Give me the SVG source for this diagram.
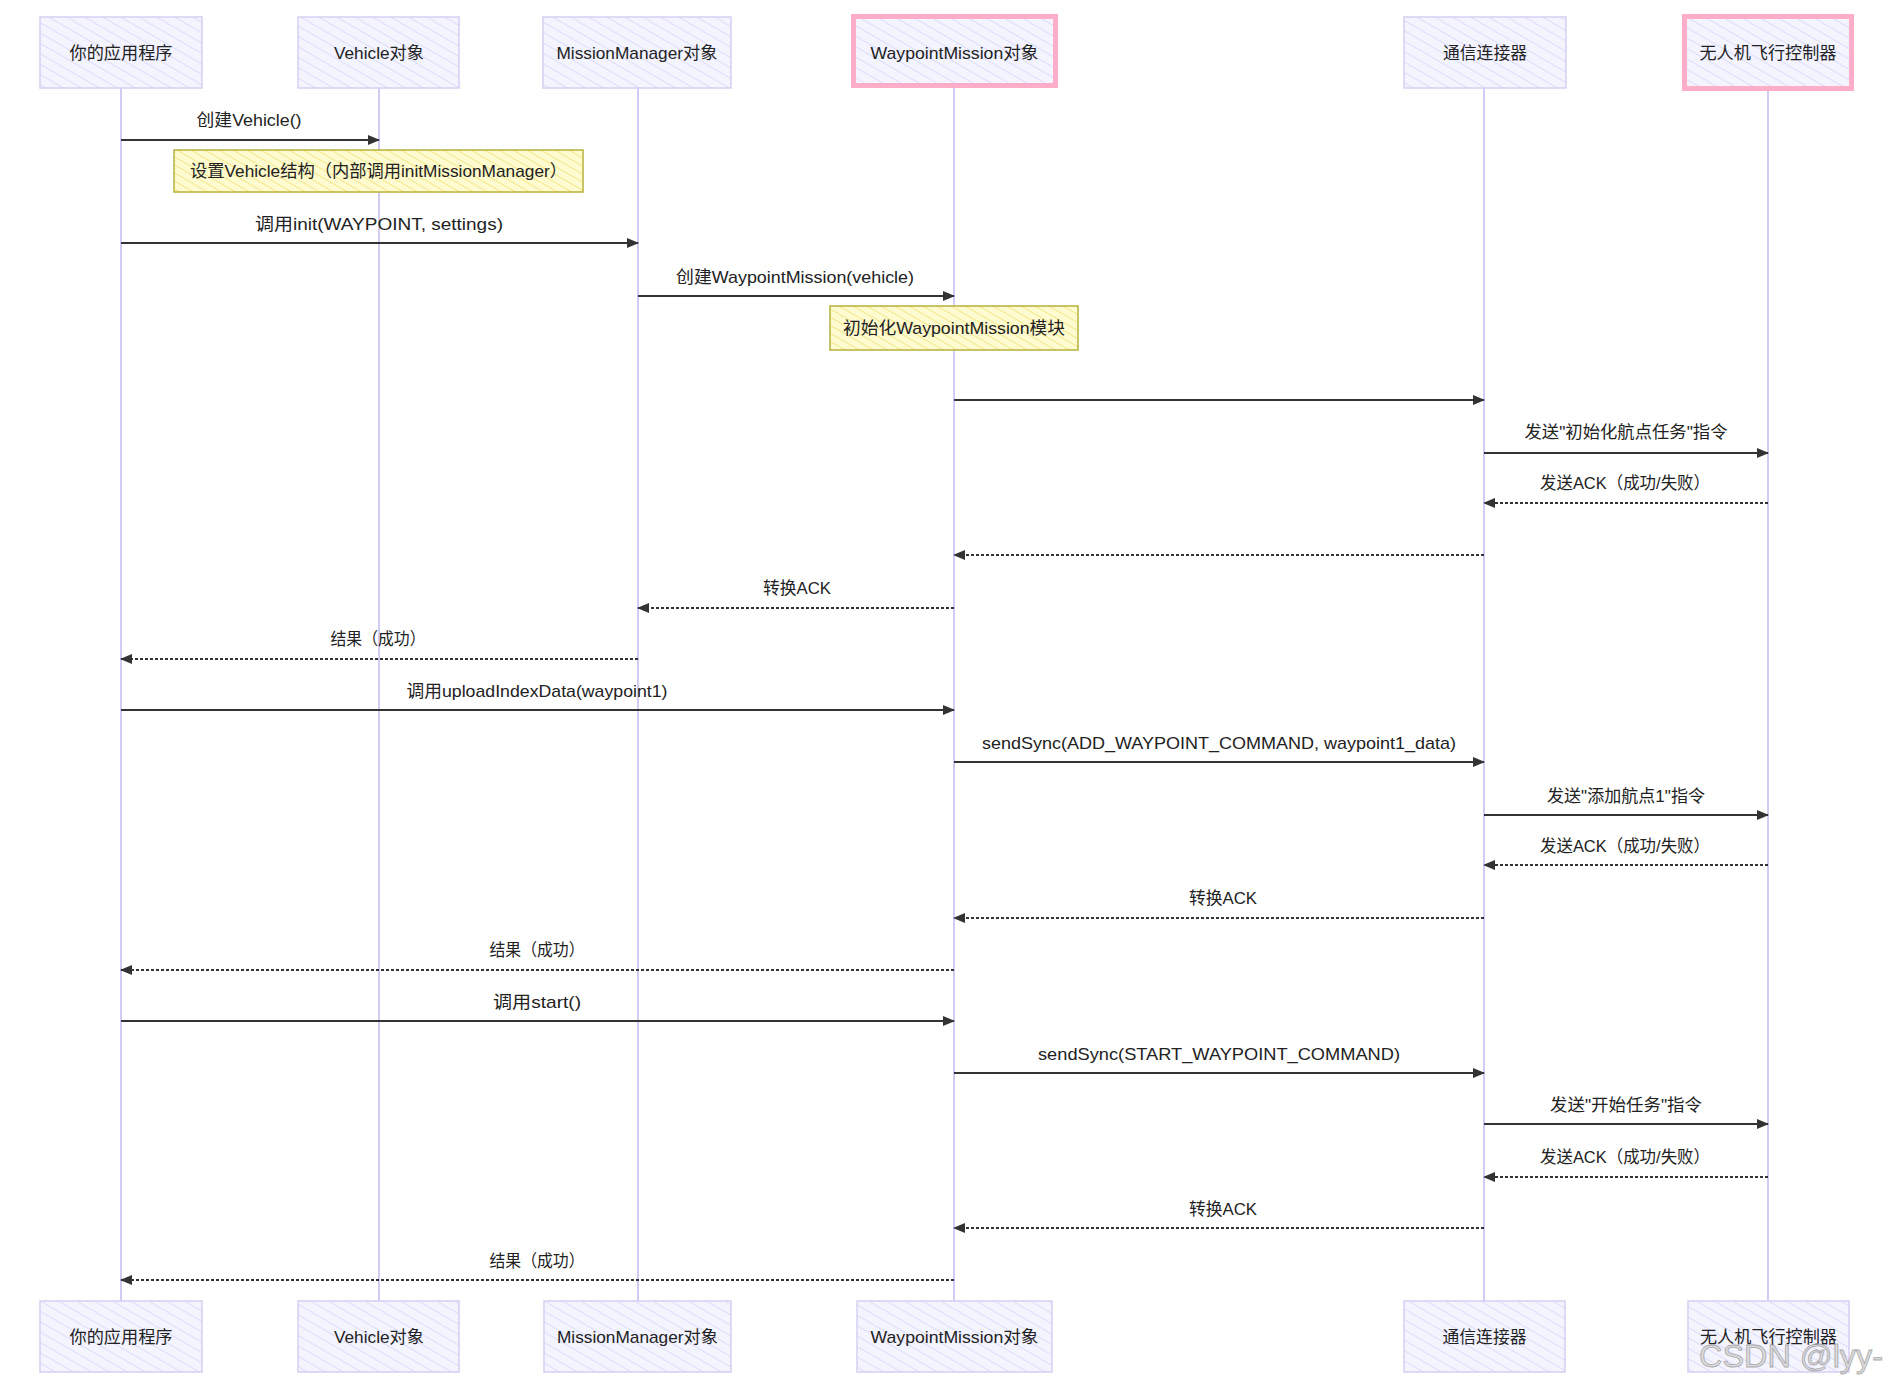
<svg xmlns="http://www.w3.org/2000/svg" width="1888" height="1386" viewBox="0 0 1888 1386">
<defs>
  <pattern id="hatchP" patternUnits="userSpaceOnUse" width="9" height="9" patternTransform="rotate(-60)">
    <rect width="9" height="9" fill="#f4f4ff"/>
    <line x1="0" y1="0" x2="0" y2="9" stroke="#dcdcfa" stroke-width="2"/>
  </pattern>
  <pattern id="hatchY" patternUnits="userSpaceOnUse" width="7" height="7" patternTransform="rotate(-60)">
    <rect width="7" height="7" fill="#fffbd0"/>
    <line x1="0" y1="0" x2="0" y2="7" stroke="#f3e88a" stroke-width="2"/>
  </pattern>
  <marker id="arr" viewBox="0 0 12 10" refX="11" refY="5" markerWidth="12" markerHeight="10" markerUnits="userSpaceOnUse" orient="auto">
    <path d="M0,0 L12,5 L0,10 z" fill="#333"/>
  </marker>
</defs>
<style>
  .box{fill:url(#hatchP);stroke:#d6cff2;stroke-width:1.5}
  .pink{fill:url(#hatchP);stroke:#ffadc8;stroke-width:5}
  .note{fill:url(#hatchY);stroke:#b8b03a;stroke-width:1.5}
  .life{stroke:#d4cbf4;stroke-width:2;fill:none}
  .t{font-family:"Liberation Sans","Noto Sans CJK SC",sans-serif;font-size:17px;fill:#222;text-anchor:middle}
  .m{stroke:#333;stroke-width:2;fill:none;marker-end:url(#arr)}
  .d{stroke-dasharray:3 2}
  .wm{font-family:"Liberation Sans",sans-serif;font-size:32px;fill:#d8d8d8;stroke:#9a9a9a;stroke-width:0.8;opacity:0.85}
</style>
<rect width="1888" height="1386" fill="#ffffff"/>

<g id="lifelines">
  <line class="life" x1="121" y1="88" x2="121" y2="1301"/>
  <line class="life" x1="379" y1="88" x2="379" y2="1301"/>
  <line class="life" x1="638" y1="88" x2="638" y2="1301"/>
  <line class="life" x1="954" y1="88" x2="954" y2="1301"/>
  <line class="life" x1="1484" y1="88" x2="1484" y2="1301"/>
  <line class="life" x1="1768" y1="88" x2="1768" y2="1301"/>
</g>

<g id="actor-app-top"><rect class="box" x="40" y="17" width="162" height="71"/><text class="t" x="121" y="58.5" textLength="103" lengthAdjust="spacingAndGlyphs">你的应用程序</text></g>
<g id="actor-vehicle-top"><rect class="box" x="298" y="17" width="161" height="71"/><text class="t" x="379" y="58.5" textLength="90" lengthAdjust="spacingAndGlyphs">Vehicle对象</text></g>
<g id="actor-mm-top"><rect class="box" x="543" y="17" width="188" height="71"/><text class="t" x="637" y="58.5" textLength="161" lengthAdjust="spacingAndGlyphs">MissionManager对象</text></g>
<g id="actor-wm-top"><rect class="pink" x="853.5" y="16.5" width="202" height="69"/><text class="t" x="954.5" y="58.5" textLength="168" lengthAdjust="spacingAndGlyphs">WaypointMission对象</text></g>
<g id="actor-conn-top"><rect class="box" x="1404" y="17" width="162" height="71"/><text class="t" x="1485" y="58.5" textLength="84" lengthAdjust="spacingAndGlyphs">通信连接器</text></g>
<g id="actor-fc-top"><rect class="pink" x="1684.5" y="16.5" width="167" height="72"/><text class="t" x="1768" y="58.5" textLength="137" lengthAdjust="spacingAndGlyphs">无人机飞行控制器</text></g>

<g id="actor-app-bottom"><rect class="box" x="40" y="1301" width="162" height="71"/><text class="t" x="121" y="1342.5" textLength="103" lengthAdjust="spacingAndGlyphs">你的应用程序</text></g>
<g id="actor-vehicle-bottom"><rect class="box" x="298" y="1301" width="161" height="71"/><text class="t" x="379" y="1342.5" textLength="90" lengthAdjust="spacingAndGlyphs">Vehicle对象</text></g>
<g id="actor-mm-bottom"><rect class="box" x="544" y="1301" width="187" height="71"/><text class="t" x="637.5" y="1342.5" textLength="161" lengthAdjust="spacingAndGlyphs">MissionManager对象</text></g>
<g id="actor-wm-bottom"><rect class="box" x="857" y="1301" width="195" height="71"/><text class="t" x="954.5" y="1342.5" textLength="168" lengthAdjust="spacingAndGlyphs">WaypointMission对象</text></g>
<g id="actor-conn-bottom"><rect class="box" x="1404" y="1301" width="161" height="71"/><text class="t" x="1484.5" y="1342.5" textLength="84" lengthAdjust="spacingAndGlyphs">通信连接器</text></g>
<g id="actor-fc-bottom"><rect class="box" x="1688" y="1301" width="161" height="71"/><text class="t" x="1768.5" y="1342.5" textLength="137" lengthAdjust="spacingAndGlyphs">无人机飞行控制器</text></g>

<g id="note-vehicle"><rect class="note" x="174" y="150" width="409" height="42"/><text class="t" x="378.5" y="177" textLength="377" lengthAdjust="spacingAndGlyphs">设置Vehicle结构（内部调用initMissionManager）</text></g>
<g id="note-wm"><rect class="note" x="830" y="306" width="248" height="44"/><text class="t" x="954" y="334" textLength="222" lengthAdjust="spacingAndGlyphs">初始化WaypointMission模块</text></g>

<g id="connectors">
  <line class="m" x1="121" y1="140" x2="379" y2="140"/>
  <line class="m" x1="121" y1="243" x2="638" y2="243"/>
  <line class="m" x1="638" y1="296" x2="954" y2="296"/>
  <line class="m" x1="954" y1="400" x2="1484" y2="400"/>
  <line class="m" x1="1484" y1="453" x2="1768" y2="453"/>
  <line class="m d" x1="1768" y1="503" x2="1484" y2="503"/>
  <line class="m d" x1="1484" y1="555" x2="954" y2="555"/>
  <line class="m d" x1="954" y1="608" x2="638" y2="608"/>
  <line class="m d" x1="638" y1="659" x2="121" y2="659"/>
  <line class="m" x1="121" y1="710" x2="954" y2="710"/>
  <line class="m" x1="954" y1="762" x2="1484" y2="762"/>
  <line class="m" x1="1484" y1="815" x2="1768" y2="815"/>
  <line class="m d" x1="1768" y1="865" x2="1484" y2="865"/>
  <line class="m d" x1="1484" y1="918" x2="954" y2="918"/>
  <line class="m d" x1="954" y1="970" x2="121" y2="970"/>
  <line class="m" x1="121" y1="1021" x2="954" y2="1021"/>
  <line class="m" x1="954" y1="1073" x2="1484" y2="1073"/>
  <line class="m" x1="1484" y1="1124" x2="1768" y2="1124"/>
  <line class="m d" x1="1768" y1="1177" x2="1484" y2="1177"/>
  <line class="m d" x1="1484" y1="1228" x2="954" y2="1228"/>
  <line class="m d" x1="954" y1="1280" x2="121" y2="1280"/>
</g>

<g id="labels">
  <text class="t" x="249" y="126" textLength="105" lengthAdjust="spacingAndGlyphs">创建Vehicle()</text>
  <text class="t" x="379" y="230" textLength="248" lengthAdjust="spacingAndGlyphs">调用init(WAYPOINT, settings)</text>
  <text class="t" x="795" y="283" textLength="238" lengthAdjust="spacingAndGlyphs">创建WaypointMission(vehicle)</text>
  <text class="t" x="1626" y="438" textLength="203" lengthAdjust="spacingAndGlyphs">发送"初始化航点任务"指令</text>
  <text class="t" x="1625" y="489" textLength="170" lengthAdjust="spacingAndGlyphs">发送ACK（成功/失败）</text>
  <text class="t" x="797" y="594" textLength="68" lengthAdjust="spacingAndGlyphs">转换ACK</text>
  <text class="t" x="378" y="645" textLength="95" lengthAdjust="spacingAndGlyphs">结果（成功）</text>
  <text class="t" x="537" y="697" textLength="261" lengthAdjust="spacingAndGlyphs">调用uploadIndexData(waypoint1)</text>
  <text class="t" x="1219" y="749" textLength="474" lengthAdjust="spacingAndGlyphs">sendSync(ADD_WAYPOINT_COMMAND, waypoint1_data)</text>
  <text class="t" x="1626" y="802" textLength="158" lengthAdjust="spacingAndGlyphs">发送"添加航点1"指令</text>
  <text class="t" x="1625" y="852" textLength="170" lengthAdjust="spacingAndGlyphs">发送ACK（成功/失败）</text>
  <text class="t" x="1223" y="904" textLength="68" lengthAdjust="spacingAndGlyphs">转换ACK</text>
  <text class="t" x="537" y="956" textLength="95" lengthAdjust="spacingAndGlyphs">结果（成功）</text>
  <text class="t" x="537" y="1008" textLength="88" lengthAdjust="spacingAndGlyphs">调用start()</text>
  <text class="t" x="1219" y="1060" textLength="362" lengthAdjust="spacingAndGlyphs">sendSync(START_WAYPOINT_COMMAND)</text>
  <text class="t" x="1626" y="1111" textLength="152" lengthAdjust="spacingAndGlyphs">发送"开始任务"指令</text>
  <text class="t" x="1625" y="1163" textLength="170" lengthAdjust="spacingAndGlyphs">发送ACK（成功/失败）</text>
  <text class="t" x="1223" y="1215" textLength="68" lengthAdjust="spacingAndGlyphs">转换ACK</text>
  <text class="t" x="537" y="1267" textLength="95" lengthAdjust="spacingAndGlyphs">结果（成功）</text>
</g>

<text class="wm" x="1699" y="1367" textLength="184" lengthAdjust="spacingAndGlyphs">CSDN @lyy-</text>
</svg>
